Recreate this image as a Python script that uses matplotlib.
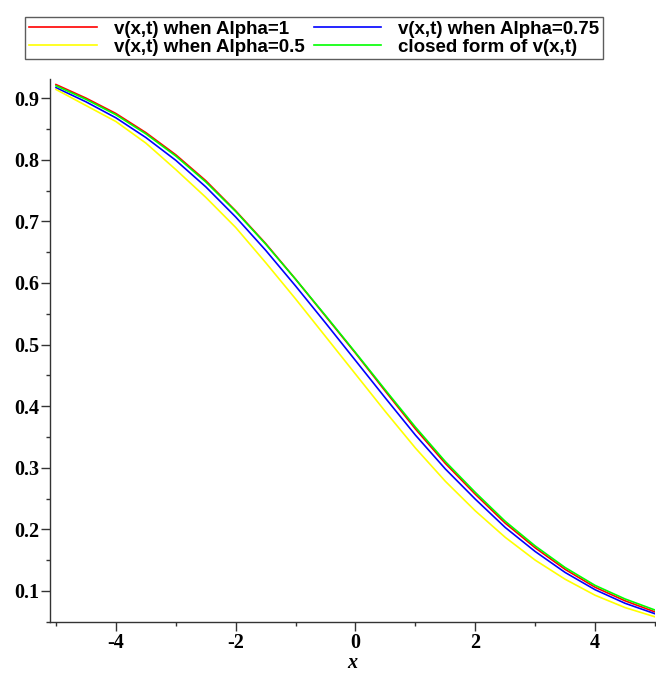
import matplotlib
matplotlib.use("Agg")
import matplotlib.pyplot as plt
from matplotlib.ticker import MultipleLocator

# values
x_vals = [-5.0, -4.5, -4.0, -3.5, -3.0, -2.5, -2.0, -1.5, -1.0, -0.5, 0.0,
          0.5, 1.0, 1.5, 2.0, 2.5, 3.0, 3.5, 4.0, 4.5, 5.0]
v_alpha_1 = [0.922, 0.900, 0.875, 0.844, 0.808, 0.766, 0.717, 0.664, 0.606,
             0.546, 0.486, 0.424, 0.363, 0.307, 0.257, 0.210, 0.170, 0.135,
             0.106, 0.084, 0.066]
v_alpha_075 = [0.917, 0.894, 0.868, 0.836, 0.799, 0.756, 0.707, 0.653, 0.595,
               0.535, 0.474, 0.413, 0.353, 0.298, 0.249, 0.203, 0.164, 0.130,
               0.102, 0.080, 0.063]
v_alpha_05 = [0.914, 0.888, 0.862, 0.827, 0.784, 0.739, 0.690, 0.633, 0.574,
              0.513, 0.452, 0.391, 0.332, 0.278, 0.230, 0.187, 0.150, 0.119,
              0.093, 0.073, 0.058]
v_closed = [0.920, 0.898, 0.873, 0.842, 0.806, 0.764, 0.716, 0.663, 0.606,
            0.547, 0.487, 0.426, 0.366, 0.310, 0.260, 0.213, 0.173, 0.138,
            0.109, 0.087, 0.069]

labels = ["v(x,t) when Alpha=1", "v(x,t) when Alpha=0.75",
          "v(x,t) when Alpha=0.5", "closed form of v(x,t)"]
colors = ["#ff0000", "#0000ff", "#ffff00", "#00ff00"]

fig = plt.figure(figsize=(6.56, 6.79), dpi=100)
ax = fig.add_axes([50 / 656, 57 / 679, 605 / 656, 543 / 679])

series = [v_alpha_1, v_alpha_075, v_alpha_05, v_closed]
handles = []
for ys, c, lab in zip(series, colors, labels):
    (ln,) = ax.plot(x_vals, ys, color=c, linewidth=1.2, label=lab)
    handles.append(ln)

ax.set_xlim(-5.1, 5.0)
ax.set_ylim(0.0496, 0.931)

for side in ("top", "right"):
    ax.spines[side].set_visible(False)
for side in ("left", "bottom"):
    ax.spines[side].set_color("#333333")
    ax.spines[side].set_linewidth(1.0)

ax.xaxis.set_major_locator(MultipleLocator(2))
ax.xaxis.set_minor_locator(MultipleLocator(1))
ax.yaxis.set_major_locator(MultipleLocator(0.1))
ax.yaxis.set_minor_locator(MultipleLocator(0.05))
ax.tick_params(which="major", length=6.5, width=1, color="#333333", pad=1)
ax.tick_params(which="minor", length=3, width=1, color="#333333")
ax.tick_params(axis="x", which="major", pad=1.5)

tick_font = {"family": "Liberation Serif", "weight": "bold", "size": 14.5}
ax.set_xticks([-4, -2, 0, 2, 4])
ax.set_xticklabels(["-4", "-2", "0", "2", "4"], fontdict=tick_font)
ax.set_yticks([0.1, 0.2, 0.3, 0.4, 0.5, 0.6, 0.7, 0.8, 0.9])
ax.set_yticklabels(["0.1", "0.2", "0.3", "0.4", "0.5", "0.6", "0.7", "0.8", "0.9"],
                   fontdict=tick_font)
ax.set_xlabel("x", family="Liberation Serif", weight="bold", style="italic",
              size=14.5, labelpad=0)

# legend order: Alpha=1, Alpha=0.75 / Alpha=0.5, closed form (row-wise)
order = [0, 2, 1, 3]
leg = fig.legend([handles[i] for i in order], [labels[i] for i in order],
                 ncol=2, loc="center", bbox_to_anchor=(0.479, 0.944),
                 bbox_transform=fig.transFigure, frameon=True, fancybox=False,
                 handlelength=3.6, handletextpad=0.9, columnspacing=0.5,
                 borderpad=0.2, labelspacing=0.05,
                 prop={"family": "Liberation Sans", "weight": "bold", "size": 13.5})
leg.get_frame().set_edgecolor("#333333")
leg.get_frame().set_linewidth(1.0)

fig.savefig("out.png", dpi=100)
